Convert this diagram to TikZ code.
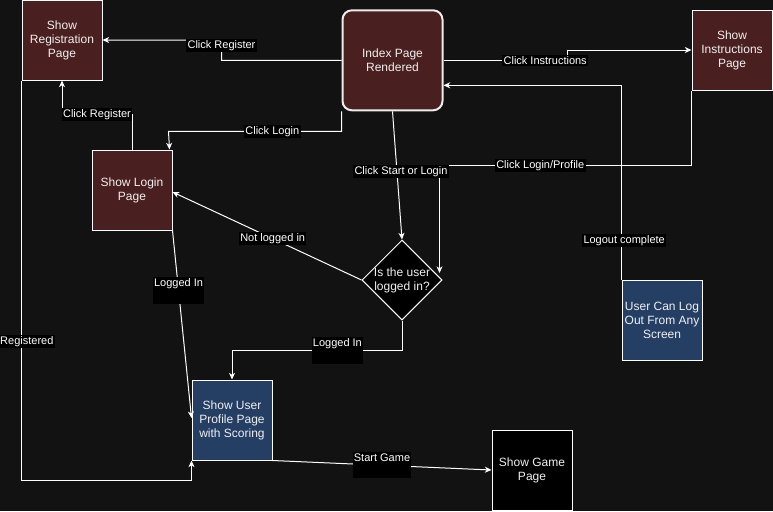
\documentclass[tikz,border=0pt]{standalone}
\usepackage{fontspec}
\setmainfont{Liberation Sans}
\usetikzlibrary{shapes.geometric,arrows.meta,calc}
\definecolor{bgdark}{RGB}{18,18,18}
\definecolor{pagered}{RGB}{74,31,31}
\definecolor{userblue}{RGB}{36,62,100}
\definecolor{nodetext}{RGB}{240,240,240}
\begin{document}
\begin{tikzpicture}[
  x=0.75pt, y=-0.75pt,
  pagebox/.style={draw=white, line width=0.75pt, fill=pagered, text=nodetext,
    minimum width=60pt, minimum height=60pt, inner sep=1pt, align=center,
    font=\fontsize{9}{10.5}\selectfont},
  indexbox/.style={pagebox, rounded corners=7pt, draw=white!85!gray,
    line width=1.5pt, minimum width=75pt, minimum height=75pt},
  userbox/.style={pagebox, fill=userblue},
  gamebox/.style={pagebox, fill=black},
  decision/.style={diamond, draw=white, line width=0.75pt, fill=black,
    minimum width=60pt, minimum height=60pt, inner sep=0pt, shape aspect=1},
  link/.style={draw=white, line width=0.75pt,
    -{Stealth[length=5pt, width=4.5pt, inset=1.5pt]}},
  lbl/.style={fill=black, text=white, inner sep=1pt,
    font=\fontsize{8.25}{9.5}\selectfont},
  tall lbl/.style={lbl, text depth=12pt},
]
\fill[bgdark, use as bounding box] (0,0) rectangle (773,511);

\node[pagebox] (reg) at (62,40) {Show\\Registration\\Page};
\node[indexbox] (index) at (392.5,60.3) {Index Page\\Rendered};
\node[pagebox] (instr) at (732,50) {Show\\Instructions\\Page};
\node[pagebox] (login) at (132,190) {Show Login\\Page};
\node[decision,
    label={[text=nodetext, align=center, font=\fontsize{9}{10.5}\selectfont]center:Is the user\\logged in?}]
    (check) at (402,280) {};
\node[userbox] (profile) at (232,420) {Show User\\Profile Page\\with Scoring};
\node[userbox] (logout) at (662,320) {User Can Log\\Out From Any\\Screen};
\node[gamebox] (game) at (532,470) {Show Game\\Page};

\draw[link] (index.west) -- ++(-120,0)
    -- node[lbl, pos=0.75] {Click Register} ++(0,-20) -- (reg.east);
\draw[link] (login.north) -- ++(0,-35)
    -- node[lbl] {Click Register} ++(-70,0) -- (reg.south);
\draw[link] (index.south west) -- ++(0,20)
    -- node[lbl, pos=0.4] {Click Login} ++(-173,0) -- ($(login.north east)+(-3,0)$);
\draw[link] (index.east) -- node[lbl, pos=0.82] {Click Instructions} ++(124,0) |- (instr.west);
\draw[link] (logout.north west) |- node[lbl, pos=0.1, xshift=2pt] {Logout complete} ($(index.east)+(0,25)$);
\draw[link] (instr.south west) -- ++(0,75)
    -| node[lbl, pos=0.3] {Click Login/Profile} ($(check.east)+(-3,-7)$);
\draw[link] (index.south) -- node[lbl, pos=0.47, xshift=3pt] {Click Start or Login} (check.north);
\draw[link] (check.west) -- node[lbl, pos=0.47] {Not logged in} ($(login.east)+(0,2)$);
\draw[link] (check.south) -- ++(0,30)
    -| node[tall lbl, pos=0.19] {Logged In} (profile.north);
\draw[link] (login.south east) -- node[tall lbl, pos=0.32] {Logged In} ($(profile.west)+(0,-2)$);
\draw[link] (reg.south west) |- node[lbl, pos=0.326, xshift=4pt] {Registered}
    ($(profile.south west)+(0,20)$) -- (profile.south west);
\draw[link] (profile.south east) -- node[tall lbl] {Start Game} (game.west);
\end{tikzpicture}
\end{document}
